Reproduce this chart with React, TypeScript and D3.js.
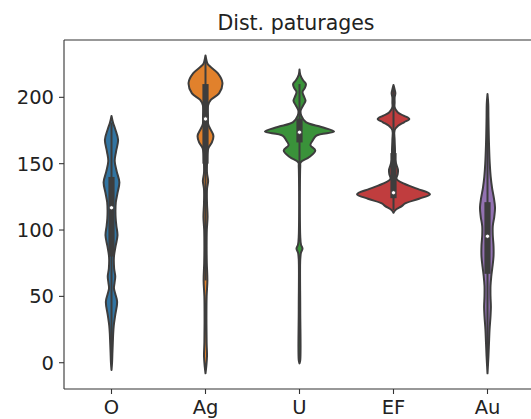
import React from "react";
import * as d3 from "d3";

// ---- data ----
const categories = ["O", "Ag", "U", "EF", "Au"];
const yTicks = [0, 50, 100, 150, 200];
const title = "Dist. paturages";

// density profiles: [value, relative half-width (0..100)]
const profileO: [number, number][] = [
  [-5.5, 0], [0, 1.5], [8, 2.5], [15, 3.5], [22, 4.5], [28, 6], [36, 10], [46, 15], [52, 10],
  [56, 6.5], [60, 8], [65, 10], [71, 7], [80, 6.5], [88, 11], [96, 16], [103, 13], [109, 11],
  [115, 10.5], [121, 11.5], [128, 16], [136, 21], [144, 14], [152, 8.5], [159, 12],
  [168, 17.5], [176, 10], [181, 4], [186, 0],
];
const profileAg: [number, number][] = [
  [-8, 0], [-3, 2], [5, 4], [15, 3], [30, 2.5], [50, 3], [62, 5], [75, 3.5], [85, 3],
  [100, 3.5], [110, 5.5], [120, 4], [131, 4], [137, 7], [143, 4], [150, 4], [158, 5],
  [162, 8], [166, 17], [171, 21], [176, 13], [180, 7], [186, 6.5], [190, 6], [194, 7],
  [198, 14], [203, 36], [211, 45], [218, 33], [225, 6], [228, 2.5], [231.5, 0],
];
const profileU: [number, number][] = [
  [-0.5, 0], [2, 2], [40, 2], [78, 2], [83, 4], [86, 8], [89, 4], [95, 2], [148, 2],
  [151, 3], [155, 26], [160, 42], [164, 29], [167.4, 35], [171.2, 45], [174.2, 92],
  [177.6, 58], [181.3, 17], [186, 5], [190, 3], [194, 10], [197.5, 16], [200.5, 12],
  [204, 8], [207, 14], [210, 17], [213, 9], [217, 2], [221, 0],
];
const profileEF: [number, number][] = [
  [113, 0], [115, 5], [118, 22], [120, 31], [123.6, 68], [127, 97], [131, 64], [134.9, 28],
  [138.6, 8], [142, 11], [145.2, 12], [149, 8], [153, 4], [160, 4], [168, 3], [175.2, 3],
  [178.7, 13], [181.2, 28], [183.7, 42], [186.2, 27], [188.7, 11], [192.5, 3], [196, 3],
  [200, 3], [203, 5], [206, 3], [209.3, 0],
];
const profileAu: [number, number][] = [
  [-8, 0], [5, 2.5], [15, 4], [25, 5.5], [35, 8], [42, 9], [50, 8], [58, 8], [65, 10], [72, 13],
  [80, 16], [88, 16], [96, 14], [103, 14], [110, 18], [117, 20], [124, 17], [132, 12],
  [140, 8.5], [150, 6], [160, 4.5], [170, 3.5], [185, 2.5], [195, 2], [202.5, 0],
];
const profiles = [profileO, profileAg, profileU, profileEF, profileAu];

const medians = [116.8, 183.7, 173.7, 128.1, 95.3];
const q1s = [80, 150, 166, 124, 67];
const q3s = [140, 210, 184, 158, 121];
const whiskerLo = [0, 62, 151, 115, -2];
const whiskerHi = [181, 228, 210, 207, 198];

// ---- styling ----
const palette = ["#3274a1", "#e1812c", "#3a923a", "#c03d3e", "#9372b2"];
const gray = "#3d3d3d";
const W = 531;
const H = 419;
const left = 64;
const top = 40;
const bottom = 389;
const right = 534;
const font = "DejaVu Sans, Liberation Sans, sans-serif";

export default function App() {
  const x = d3.scaleBand<string>().domain(categories).range([left + 0.5, right + 0.5]).padding(0);
  const y = d3.scaleLinear().domain([-19.8, 243.2]).range([bottom, top]);
  const w = d3.scaleLinear().domain([0, 100]).range([0, x.step() * 0.4]);

  return (
    <svg width={W} height={H} style={{ position: "absolute", left: 0, top: 0, background: "#fff" }}>
      <rect x={0} y={0} width={W} height={H} fill="#fff" />
      <text x={(left + right) / 2 - 3} y={30} textAnchor="middle" fontFamily={font} fontSize={20.5} fill="#222">
        {title}
      </text>
      <g>
        {categories.map((c, i) => {
          const cx = (x(c) as number) + x.bandwidth() / 2;
          const area = d3
            .area<[number, number]>()
            .y((d) => y(d[0]))
            .x0((d) => cx - w(d[1]))
            .x1((d) => cx + w(d[1]))
            .curve(d3.curveCatmullRom.alpha(0.5));
          return (
            <g key={c}>
              <path d={area(profiles[i]) || ""} fill={palette[i]} stroke={gray} strokeWidth={2} strokeLinejoin="round" />
              <line x1={cx} x2={cx} y1={y(whiskerLo[i])} y2={y(whiskerHi[i])} stroke={gray} strokeWidth={2} />
              <line x1={cx} x2={cx} y1={y(q1s[i])} y2={y(q3s[i])} stroke={gray} strokeWidth={6.2} />
              <circle cx={cx} cy={y(medians[i])} r={2.1} fill="#fff" stroke={gray} strokeWidth={0.8} />
            </g>
          );
        })}
      </g>
      {/* spines */}
      <line x1={left} x2={left} y1={top} y2={bottom} stroke="#333" strokeWidth={1.1} />
      <line x1={left} x2={right} y1={bottom} y2={bottom} stroke="#333" strokeWidth={1.1} />
      <line x1={left} x2={right} y1={top} y2={top} stroke="#333" strokeWidth={1.1} />
      <line x1={right} x2={right} y1={top} y2={bottom} stroke="#333" strokeWidth={1.1} />
      {/* y ticks */}
      {yTicks.map((t) => (
        <g key={t}>
          <line x1={left - 5} x2={left} y1={y(t)} y2={y(t)} stroke="#333" strokeWidth={1.1} />
          <text x={54} y={y(t)} dy="0.36em" textAnchor="end" fontFamily={font} fontSize={19.5} fill="#222">
            {t}
          </text>
        </g>
      ))}
      {/* x ticks */}
      {categories.map((c) => {
        const cx = (x(c) as number) + x.bandwidth() / 2;
        return (
          <g key={c}>
            <line x1={cx} x2={cx} y1={bottom} y2={bottom + 5} stroke="#333" strokeWidth={1.1} />
            <text x={cx} y={413.5} textAnchor="middle" fontFamily={font} fontSize={19.5} fill="#222">
              {c}
            </text>
          </g>
        );
      })}
    </svg>
  );
}
